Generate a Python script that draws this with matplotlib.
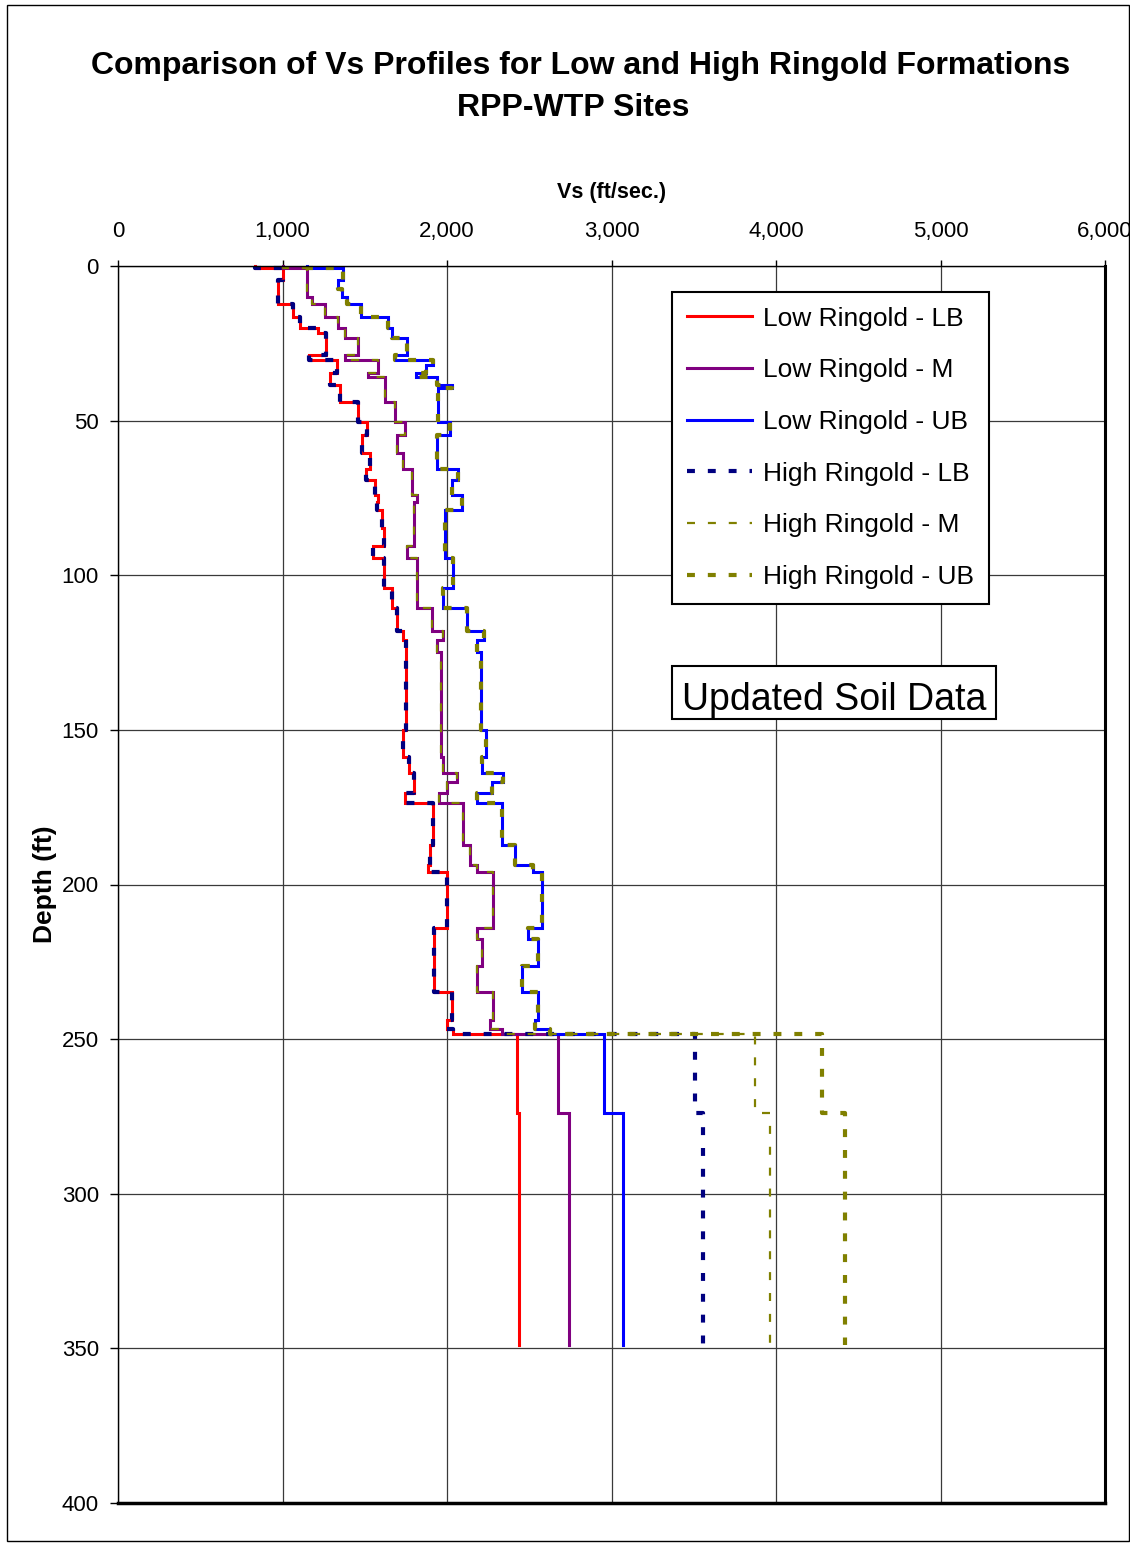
import numpy as np
import matplotlib
matplotlib.use("Agg")
import matplotlib.pyplot as plt
from matplotlib.patches import Rectangle
from matplotlib.ticker import FuncFormatter

plt.rcParams["font.family"] = ["Liberation Sans", "DejaVu Sans"]

# layer boundaries (ft) shared by all profiles down to the Ringold contact
LAYER_TOPS = [0, 0.5, 4.5, 7.5, 9.9, 12.2, 16.4, 20.1, 21.7, 23.4, 28.8, 30.4,
              32.0, 34.7, 36.0, 38.5, 39.5, 43.9, 50.3, 54.7, 60.6, 65.8, 69.2,
              74.1, 76.2, 78.8, 84.8, 90.6, 94.5, 104.2, 110.7, 118.0, 121.0,
              124.7, 150.0, 158.7, 164.1, 166.7, 170.5, 173.7, 187.2, 193.7,
              195.8, 214.2, 217.6, 226.2, 234.8, 243.9, 246.6]
DEEP_TOPS = [248.5, 274.0]
BOTTOM = 349.0

# Vs (ft/s) above the contact, per layer
vs_lb = [833, 1005, 975, 975, 975, 1065, 1106, 1218, 1262, 1262, 1161, 1330,
         1330, 1289, 1289, 1350, 1350, 1461, 1512, 1482, 1532, 1506, 1563,
         1583, 1573, 1603, 1619, 1553, 1619, 1664, 1695, 1730, 1750, 1750,
         1730, 1770, 1800, 1800, 1745, 1917, 1897, 1887, 1998, 1921, 1921,
         1921, 2028, 1998, 2039]
vs_m = [1000, 1147, 1147, 1147, 1177, 1258, 1340, 1380, 1380, 1461, 1380, 1583,
        1583, 1522, 1624, 1624, 1624, 1684, 1745, 1695, 1735, 1786, 1786,
        1816, 1800, 1800, 1800, 1756, 1820, 1820, 1908, 1978, 1941, 1961,
        1961, 1978, 2059, 1998, 1953, 2099, 2140, 2180, 2281, 2180, 2210,
        2180, 2281, 2261, 2332]
vs_ub = [1150, 1370, 1340, 1360, 1390, 1480, 1644, 1664, 1664, 1755, 1684, 1917,
         1870, 1810, 1937, 2028, 1947, 1947, 2018, 1937, 1938, 2069, 2029,
         2090, 2090, 1988, 1988, 1988, 2039, 1978, 2120, 2226, 2180, 2204,
         2237, 2214, 2342, 2271, 2180, 2332, 2413, 2524, 2580, 2494, 2555,
         2453, 2555, 2535, 2626]

# Vs below the contact
low_lb_deep = [2424, 2440]
low_m_deep = [2673, 2744]
low_ub_deep = [2956, 3072]
high_lb_deep = [3507, 3558]
high_m_deep = [3872, 3963]
high_ub_deep = [4277, 4420]

SERIES = [
    ("Low Ringold - LB", vs_lb, low_lb_deep),
    ("Low Ringold - M", vs_m, low_m_deep),
    ("Low Ringold - UB", vs_ub, low_ub_deep),
    ("High Ringold - LB", vs_lb, high_lb_deep),
    ("High Ringold - M", vs_m, high_m_deep),
    ("High Ringold - UB", vs_ub, high_ub_deep),
]
STYLES = [
    dict(color="#FF0000", lw=2.2),
    dict(color="#800080", lw=2.2),
    dict(color="#0000FF", lw=2.2),
    dict(color="#000080", lw=3.0, dashes=(1.9, 3.1)),
    dict(color="#808000", lw=1.6, dashes=(3.6, 5.8)),
    dict(color="#808000", lw=3.0, dashes=(1.9, 3.1)),
]


def step_profile(upper, deep):
    vals = np.array(list(upper) + list(deep), dtype=float)
    tops = np.array(LAYER_TOPS + DEEP_TOPS, dtype=float)
    bots = np.append(tops[1:], BOTTOM)
    x = np.repeat(vals, 2)
    y = np.column_stack([tops, bots]).ravel()
    return x, y


fig = plt.figure(figsize=(11.3, 15.45), dpi=100)
W, H = 1130, 1545
ax = fig.add_axes([118 / W, 1 - 1503 / H, (1105 - 118) / W, (1503 - 266) / H])

for (label, upper, deep), style in zip(SERIES, STYLES):
    x, y = step_profile(upper, deep)
    ax.plot(x, y, label=label, clip_on=False, solid_joinstyle="miter", **style)

ax.set_xlim(0, 6000)
ax.set_ylim(400, 0)
ax.set_xticks(np.arange(0, 6001, 1000))
ax.set_yticks(np.arange(0, 401, 50))
ax.xaxis.set_major_formatter(FuncFormatter(lambda v, p: f"{v:,.0f}"))
ax.xaxis.tick_top()
ax.xaxis.set_label_position("top")
ax.tick_params(axis="x", direction="out", length=4.5, width=1, labelsize=16, pad=13)
ax.tick_params(axis="y", direction="out", length=5.8, width=1, labelsize=16, pad=8)
ax.grid(True, color="#3a3a3a", lw=0.9)
ax.set_axisbelow(True)
for side, lw in [("left", 1.0), ("top", 1.0), ("right", 2.2), ("bottom", 2.5)]:
    ax.spines[side].set_linewidth(lw)
    ax.spines[side].set_color("black")

ax.set_xlabel("Vs (ft/sec.)", fontsize=15.5, fontweight="bold", labelpad=16)
ax.set_ylabel("Depth (ft)", fontsize=19, fontweight="bold", labelpad=3)

fig.text(581 / W, 1 - 66 / H, "Comparison of Vs Profiles for Low and High Ringold Formations",
         ha="center", va="center", fontsize=23, fontweight="bold")
fig.text(573 / W, 1 - 108 / H, "RPP-WTP Sites",
         ha="center", va="center", fontsize=23, fontweight="bold")

leg = ax.legend(loc="upper left", bbox_to_anchor=((672 - 118) / 987, 1 - (292 - 266) / 1237),
                fontsize=19, frameon=True, fancybox=False, edgecolor="black",
                framealpha=1, borderpad=0.55, labelspacing=1.05, handlelength=2.5,
                handletextpad=0.4, borderaxespad=0)
leg.get_frame().set_linewidth(1.5)

ax.add_patch(Rectangle(((672 - 118) / 987, 1 - (719 - 266) / 1237), 324 / 987, 53 / 1237,
                       transform=ax.transAxes, fill=True, facecolor="white",
                       edgecolor="black", lw=1.5, zorder=5))
ax.text((834 - 118) / 987, 1 - (710 - 266) / 1237, "Updated Soil Data",
        transform=ax.transAxes, ha="center", va="baseline", fontsize=27, zorder=6)

fig.add_artist(Rectangle((7 / W, 1 - 1541 / H), 1122 / W, 1536 / H,
                         transform=fig.transFigure, fill=False, edgecolor="black", lw=1))

fig.savefig("out.png", dpi=100)
